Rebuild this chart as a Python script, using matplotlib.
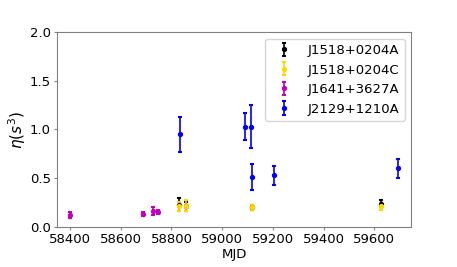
import numpy as np
import matplotlib
matplotlib.use("Agg")
import matplotlib.pyplot as plt

# J1518+0204A
mjd_a = [58830, 58856, 59117, 59625]
eta_a = [0.23, 0.21, 0.20, 0.24]
err_a = [0.07, 0.05, 0.03, 0.04]

# J1518+0204C
mjd_c = [58830, 58856, 59117, 59625]
eta_c = [0.21, 0.22, 0.20, 0.21]
err_c = [0.05, 0.06, 0.03, 0.04]

# J1641+3627A
mjd_m = [58398, 58686, 58728, 58745]
eta_m = [0.12, 0.13, 0.16, 0.15]
err_m = [0.03, 0.02, 0.04, 0.02]

# J2129+1210A
mjd_b = [58832, 59092, 59113, 59116, 59206, 59695]
eta_b = [0.95, 1.03, 1.03, 0.51, 0.53, 0.60]
err_b = [0.18, 0.14, 0.22, 0.135, 0.10, 0.10]

fs = 9.5
fig, ax = plt.subplots(figsize=(4.57, 2.67), dpi=100)

kw = dict(fmt='o', ms=2.8, capsize=1.6, capthick=1.5, elinewidth=1.2)
ax.errorbar(mjd_a, eta_a, yerr=err_a, color='k', label='J1518+0204A', **kw)
ax.errorbar(mjd_c, eta_c, yerr=err_c, color='gold', label='J1518+0204C', **kw)
ax.errorbar(mjd_m, eta_m, yerr=err_m, color='m', label='J1641+3627A', **kw)
ax.errorbar(mjd_b, eta_b, yerr=err_b, color='b', label='J2129+1210A', **kw)

ax.set_ylim(0, 2.0)
ax.set_xlim(58349, 59746)
ax.set_xticks([58400, 58600, 58800, 59000, 59200, 59400, 59600])
ax.set_yticks([0.0, 0.5, 1.0, 1.5, 2.0])
ax.tick_params(labelsize=fs, length=2.5, pad=2, color='grey')
ax.set_xlabel('MJD', fontsize=fs, labelpad=1)
ax.set_ylabel(r'$\eta(s^3)$', fontsize=11, labelpad=1)
for s in ax.spines.values():
    s.set_color('grey')
ax.legend(loc='upper right', fontsize=fs)

fig.subplots_adjust(left=0.125, right=0.9, top=0.88, bottom=0.15)
fig.savefig('out.png', dpi=100)
